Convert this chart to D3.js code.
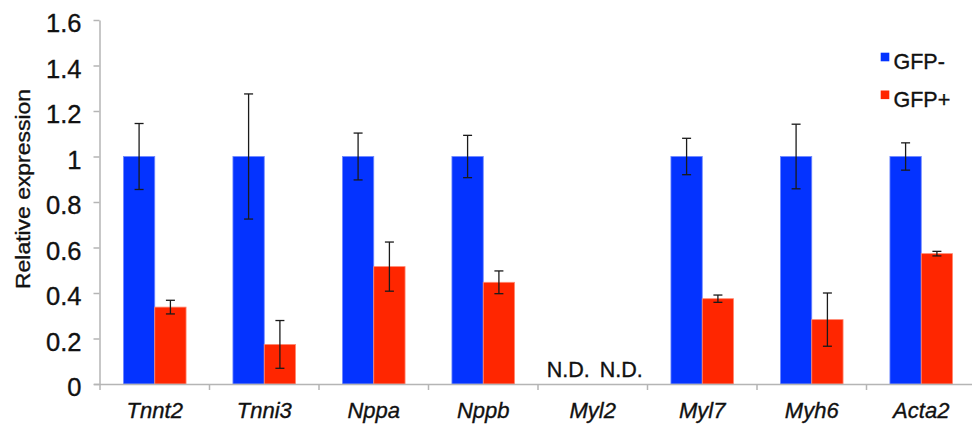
<!DOCTYPE html>
<html>
<head>
<meta charset="utf-8">
<script src="https://cdn.jsdelivr.net/npm/d3@7"></script>
<style>
  html, body { margin: 0; padding: 0; background: #fff; }
  svg { display: block; font-family: "Liberation Sans", Arial, Helvetica, sans-serif; }
  svg text { stroke: #111; stroke-width: 0.35px; }
</style>
</head>
<body>
<svg id="chart" width="972" height="426"></svg>
<script>
// Gene expression, GFP- vs GFP+ cells (relative to GFP-)
const categories = ["Tnnt2", "Tnni3", "Nppa", "Nppb", "Myl2", "Myl7", "Myh6", "Acta2"];
const seriesNames = ["GFP-", "GFP+"];
const seriesColors = ["#0433ff", "#ff2600"];
const seriesStrokes = ["#6f88ff", "#ff8a73"];
const gfpNeg    = [1, 1, 1, 1, null, 1, 1, 1];
const gfpNegErr = [0.145, 0.275, 0.103, 0.093, null, 0.08, 0.142, 0.06];
const gfpPos    = [0.338, 0.174, 0.516, 0.447, null, 0.375, 0.283, 0.573];
const gfpPosErr = [0.03, 0.105, 0.108, 0.05, null, 0.016, 0.117, 0.01];
const yTickValues = [0, 0.2, 0.4, 0.6, 0.8, 1, 1.2, 1.4, 1.6];
const yTickLabels = ["0", "0.2", "0.4", "0.6", "0.8", "1", "1.2", "1.4", "1.6"];
const notDetectedLabel = "N.D.";

const svg = d3.select("#chart");
const plotLeft = 100, bandW = 109.5, plotTop = 20, plotBottom = 384;
const axisColor = "#b5b5b5";

const x0 = d3.scaleBand().domain(categories).range([plotLeft, plotLeft + bandW * categories.length]).padding(0);
const groupW = x0.bandwidth() * 0.572;
const x1 = d3.scaleBand().domain(seriesNames).range([0, groupW]).padding(0);
const y = d3.scaleLinear().domain([0, 1.6]).range([plotBottom, plotTop]);

const rows = [];
categories.forEach((c, i) => {
  [[gfpNeg, gfpNegErr], [gfpPos, gfpPosErr]].forEach(([v, e], s) => {
    rows.push({ cat: c, s, name: seriesNames[s], value: v[i], err: e[i] });
  });
});
const groupX = c => x0(c) + (x0.bandwidth() - groupW) / 2;

// Y axis
const yAxis = svg.append("g")
  .attr("transform", `translate(${plotLeft - 0.5},0)`)
  .call(d3.axisLeft(y).tickValues(yTickValues).tickFormat((d, i) => yTickLabels[i]).tickSize(6).tickSizeOuter(0));
yAxis.select(".domain").attr("stroke", axisColor).attr("stroke-width", 1.5);
yAxis.selectAll(".tick line").attr("stroke", axisColor).attr("stroke-width", 1.5);
yAxis.selectAll(".tick text")
  .attr("x", -18).attr("dy", "11.8px")
  .attr("font-size", 25.5).attr("fill", "#111")
  .attr("font-family", "'Liberation Sans', Arial, sans-serif");

// Y axis title
svg.append("text")
  .attr("transform", `translate(30,189) rotate(-90)`)
  .attr("text-anchor", "middle")
  .attr("font-size", 19.5)
  .attr("textLength", 200)
  .attr("lengthAdjust", "spacingAndGlyphs")
  .attr("fill", "#111")
  .text("Relative expression");

// Bars
const barRows = rows.filter(d => d.value != null);
svg.append("g").selectAll("rect").data(barRows).join("rect")
  .attr("x", d => groupX(d.cat) + x1(d.name))
  .attr("y", d => y(d.value))
  .attr("width", x1.bandwidth())
  .attr("height", d => y(0) - y(d.value))
  .attr("fill", d => seriesColors[d.s])
  .attr("stroke", d => seriesStrokes[d.s])
  .attr("stroke-width", 0.8);

// Error bars
const errG = svg.append("g").attr("stroke", "#1a1a1a").attr("stroke-width", 1.3);
barRows.forEach(d => {
  const cx = groupX(d.cat) + x1(d.name) + x1.bandwidth() / 2;
  const y1 = y(d.value + d.err), y2 = y(d.value - d.err);
  errG.append("line").attr("x1", cx).attr("x2", cx).attr("y1", y1).attr("y2", y2);
  errG.append("line").attr("x1", cx - 4.5).attr("x2", cx + 4.5).attr("y1", y1).attr("y2", y1);
  errG.append("line").attr("x1", cx - 4.5).attr("x2", cx + 4.5).attr("y1", y2).attr("y2", y2);
});

// Not-detected labels
svg.append("g").selectAll("text").data(rows.filter(d => d.value == null)).join("text")
  .attr("x", d => x0(d.cat) + x0.bandwidth() / 2 + (d.s === 0 ? -3 : 7))
  .attr("y", plotBottom - 7)
  .attr("text-anchor", d => d.s === 0 ? "end" : "start")
  .attr("font-size", 21.5)
  .attr("fill", "#111")
  .text(notDetectedLabel);

// X axis
const xAxisG = svg.append("g");
xAxisG.append("line")
  .attr("x1", plotLeft - 6).attr("x2", 972).attr("y1", plotBottom + 0.5).attr("y2", plotBottom + 0.5)
  .attr("stroke", axisColor).attr("stroke-width", 1.5);
xAxisG.selectAll("line.bt").data(categories).join("line")
  .attr("class", "bt")
  .attr("x1", d => x0(d)).attr("x2", d => x0(d))
  .attr("y1", plotBottom).attr("y2", plotBottom + 6)
  .attr("stroke", axisColor).attr("stroke-width", 1.5);
xAxisG.selectAll("text").data(categories).join("text")
  .attr("x", d => x0(d) + x0.bandwidth() / 2)
  .attr("y", 418)
  .attr("text-anchor", "middle")
  .attr("font-size", 22)
  .attr("font-style", "italic")
  .attr("fill", "#111")
  .text(d => d);

// Legend
const legend = svg.append("g");
seriesNames.forEach((n, i) => {
  const ly = 52.7 + i * 37.8;
  legend.append("rect").attr("x", 880.7).attr("y", ly).attr("width", 8.6).attr("height", 8.6)
    .attr("fill", seriesColors[i]);
  legend.append("text").attr("x", 893.5).attr("y", ly + 16.3)
    .attr("font-size", 21.5).attr("fill", "#111").text(n);
});
</script>
</body>
</html>
